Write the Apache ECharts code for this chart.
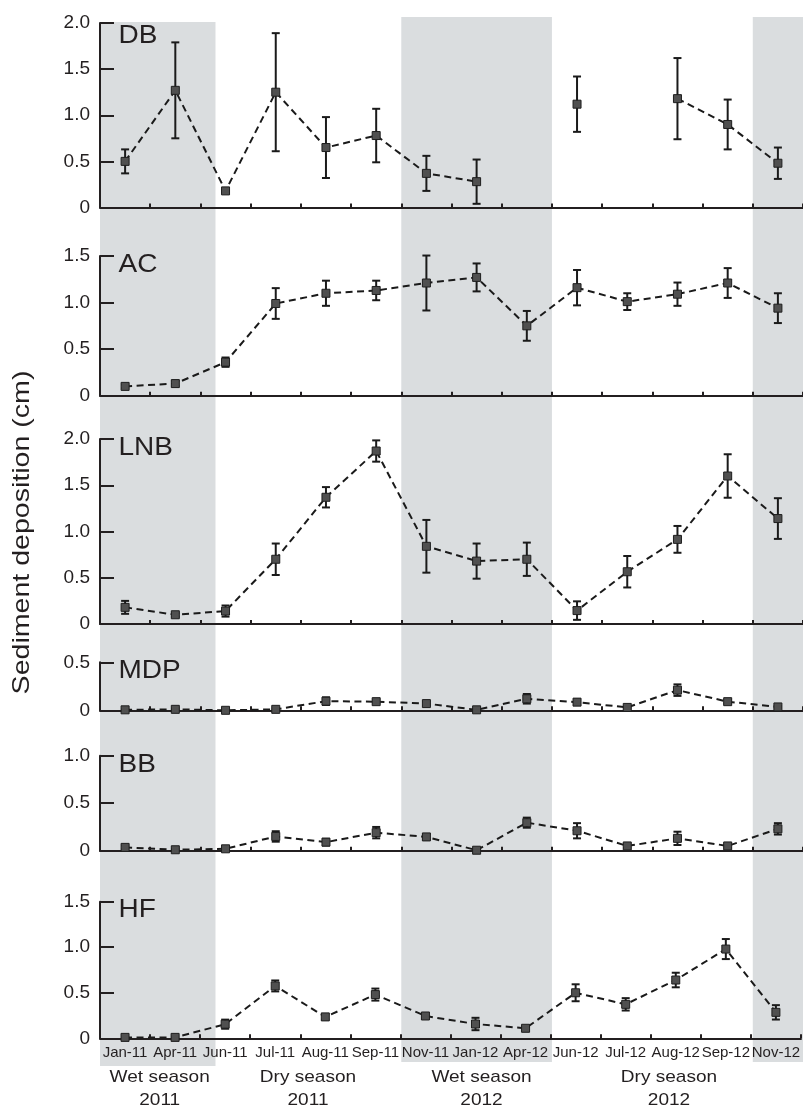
<!DOCTYPE html>
<html>
<head>
<meta charset="utf-8">
<script src="https://cdn.jsdelivr.net/npm/echarts@6/dist/echarts.min.js"></script>
<style>
  html, body { margin: 0; padding: 0; background: #fff; }
  #chart { width: 803px; height: 1109px; }
</style>
</head>
<body>
<div id="chart"></div>
<script>
// sampling months (shared x axis)
const months = ['Jan-11', 'Apr-11', 'Jun-11', 'Jul-11', 'Aug-11', 'Sep-11', 'Nov-11',
  'Jan-12', 'Apr-12', 'Jun-12', 'Jul-12', 'Aug-12', 'Sep-12', 'Nov-12'];

// mean sediment deposition (cm) and error per site, null = no sample
const dbMean = [0.50, 1.27, 0.18, 1.25, 0.65, 0.78, 0.37, 0.28, null, 1.12, null, 1.18, 0.90, 0.48];
const dbErr = [0.13, 0.52, 0.01, 0.64, 0.33, 0.29, 0.19, 0.24, null, 0.30, null, 0.44, 0.27, 0.17];

const acMean = [0.10, 0.13, 0.36, 0.99, 1.10, 1.13, 1.21, 1.27, 0.75, 1.16, 1.01, 1.09, 1.21, 0.94];
const acErr = [0.02, 0.03, 0.05, 0.165, 0.135, 0.105, 0.295, 0.15, 0.16, 0.19, 0.09, 0.125, 0.16, 0.16];

const lnbMean = [0.18, 0.10, 0.14, 0.70, 1.37, 1.87, 0.84, 0.68, 0.70, 0.145, 0.565, 0.915, 1.60, 1.14];
const lnbErr = [0.07, 0.02, 0.06, 0.17, 0.11, 0.115, 0.285, 0.19, 0.18, 0.10, 0.17, 0.145, 0.235, 0.22];

const mdpMean = [0.005, 0.01, 0.0, 0.01, 0.095, 0.09, 0.07, 0.005, 0.12, 0.085, 0.03, 0.21, 0.09, 0.035];
const mdpErr = [0.005, 0.01, 0.005, 0.01, 0.04, 0.02, 0.02, 0.005, 0.05, 0.03, 0.01, 0.06, 0.02, 0.01];

const bbMean = [0.035, 0.01, 0.02, 0.15, 0.09, 0.19, 0.145, 0.005, 0.295, 0.21, 0.05, 0.13, 0.05, 0.23];
const bbErr = [0.02, 0.01, 0.01, 0.055, 0.035, 0.06, 0.03, 0.005, 0.053, 0.08, 0.02, 0.07, 0.02, 0.06];

const hfMean = [0.01, 0.01, 0.155, 0.575, 0.235, 0.48, 0.245, 0.157, 0.11, 0.50, 0.373, 0.64, 0.98, 0.285];
const hfErr = [0.01, 0.01, 0.05, 0.06, 0.03, 0.066, 0.03, 0.068, 0.02, 0.093, 0.068, 0.08, 0.11, 0.079];

// site names and y-axis maxima
const sites = ['DB', 'AC', 'LNB', 'MDP', 'BB', 'HF'];
const yMax = [2.0, 1.5, 2.0, 0.5, 1.0, 1.5];

// shaded wet-season bands, in month-slot units
const wetBands = [[0, 2.3], [6, 9], [13, 14]];

// season captions under the axis
const seasonText = ['Wet season\n2011', 'Dry season\n2011', 'Wet season\n2012', 'Dry season\n2012'];

const means = [dbMean, acMean, lnbMean, mdpMean, bbMean, hfMean];
const errs = [dbErr, acErr, lnbErr, mdpErr, bbErr, hfErr];

// layout (pixels)
const panelTop = [23, 256, 439, 662.3, 755.7, 901.7];
const panelHeight = [184.5, 139.7, 185, 48, 95, 136.6];
const labelY = [35.8, 265, 448.3, 671.5, 765, 910];
const seasonX = [159.7, 308, 481.5, 669];
const bandY = [[0, 0.9952], [0.0038, 1], [0.0038, 1]];

const ink = '#231f20';
const chart = echarts.init(document.getElementById('chart'));

const grids = [], xAxes = [], yAxes = [], series = [];
sites.forEach(function (name, k) {
  const last = k === sites.length - 1;
  grids.push({ left: 100, right: 0, top: panelTop[k], height: panelHeight[k] });
  xAxes.push({
    type: 'category', gridIndex: k, data: months, boundaryGap: true, z: 10,
    axisLine: { lineStyle: { color: ink, width: 2 } },
    axisTick: { show: true, inside: true, length: 4, interval: 0, lineStyle: { color: ink, width: 2 } },
    axisLabel: {
      show: last, interval: 0, margin: 7, color: ink, fontSize: 15,
      fontFamily: '"Liberation Sans Narrow", "Liberation Sans", Arial, sans-serif'
    },
    splitLine: { show: false }
  });
  yAxes.push({
    type: 'value', gridIndex: k, min: 0, max: yMax[k], interval: 0.5, z: 10,
    axisLine: { show: true, lineStyle: { color: ink, width: 2 } },
    axisTick: { show: true, inside: true, length: 14, lineStyle: { color: ink, width: 2 } },
    axisLabel: {
      margin: 10, color: ink, fontSize: 19, fontFamily: '"Liberation Sans", Arial, sans-serif',
      formatter: function (v) { return v === 0 ? '0' : v.toFixed(1); }
    },
    splitLine: { show: false }
  });

  const bars = [];
  means[k].forEach(function (m, i) {
    if (m !== null) bars.push([i, m - errs[k][i], m + errs[k][i]]);
  });
  series.push({
    type: 'custom', xAxisIndex: k, yAxisIndex: k, z: 11, data: bars,
    renderItem: function (params, api) {
      const lo = api.coord([api.value(0), api.value(1)]);
      const hi = api.coord([api.value(0), api.value(2)]);
      const st = { stroke: '#1a1a1a', lineWidth: 2 };
      return {
        type: 'group', children: [
          { type: 'line', shape: { x1: lo[0], y1: lo[1], x2: hi[0], y2: hi[1] }, style: st },
          { type: 'line', shape: { x1: lo[0] - 4, y1: lo[1], x2: lo[0] + 4, y2: lo[1] }, style: st },
          { type: 'line', shape: { x1: hi[0] - 4, y1: hi[1], x2: hi[0] + 4, y2: hi[1] }, style: st }
        ]
      };
    }
  });
  series.push({
    type: 'line', name: name, xAxisIndex: k, yAxisIndex: k, z: 12,
    data: means[k], connectNulls: false, showAllSymbol: true,
    symbol: 'rect', symbolSize: 8,
    itemStyle: { color: '#505050', borderColor: '#1e1e1e', borderWidth: 1 },
    lineStyle: { color: '#1a1a1a', width: 2, type: [7, 4.5] }
  });
});

// full-height background grid for the wet-season shading
grids.push({ left: 100, right: 0, top: 17, height: 1049 });
xAxes.push({ type: 'value', gridIndex: 6, min: 0, max: 14, show: false });
yAxes.push({ type: 'value', gridIndex: 6, min: 0, max: 1, show: false });
series.push({
  type: 'line', xAxisIndex: 6, yAxisIndex: 6, z: 0, data: [[0, 0]],
  symbol: 'none', lineStyle: { opacity: 0 }, silent: true,
  markArea: {
    silent: true,
    itemStyle: { color: '#dadddf' },
    data: wetBands.map(function (b, i) {
      return [{ xAxis: b[0], yAxis: bandY[i][0] }, { xAxis: b[1], yAxis: bandY[i][1] }];
    })
  }
});

const graphics = [];
sites.forEach(function (name, k) {
  graphics.push({
    type: 'text', x: 118.5, y: labelY[k], scaleX: 1.12, z: 20,
    style: { text: name, fill: ink, font: '25px "Liberation Sans", Arial, sans-serif', align: 'left', verticalAlign: 'middle' }
  });
});
seasonText.forEach(function (t, i) {
  graphics.push({
    type: 'text', x: seasonX[i], y: 1089, scaleX: 1.12, z: 20,
    style: { text: t, fill: ink, font: '17px "Liberation Sans", Arial, sans-serif', align: 'center', verticalAlign: 'middle', lineHeight: 23 }
  });
});
graphics.push({
  type: 'text', x: 22.5, y: 532.5, rotation: Math.PI / 2, scaleX: 1.19, z: 20,
  style: { text: 'Sediment deposition (cm)', fill: ink, font: '24px "Liberation Sans", Arial, sans-serif', align: 'center', verticalAlign: 'middle' }
});

chart.setOption({
  animation: false,
  backgroundColor: '#fff',
  grid: grids,
  xAxis: xAxes,
  yAxis: yAxes,
  series: series,
  graphic: graphics
});
</script>
</body>
</html>
